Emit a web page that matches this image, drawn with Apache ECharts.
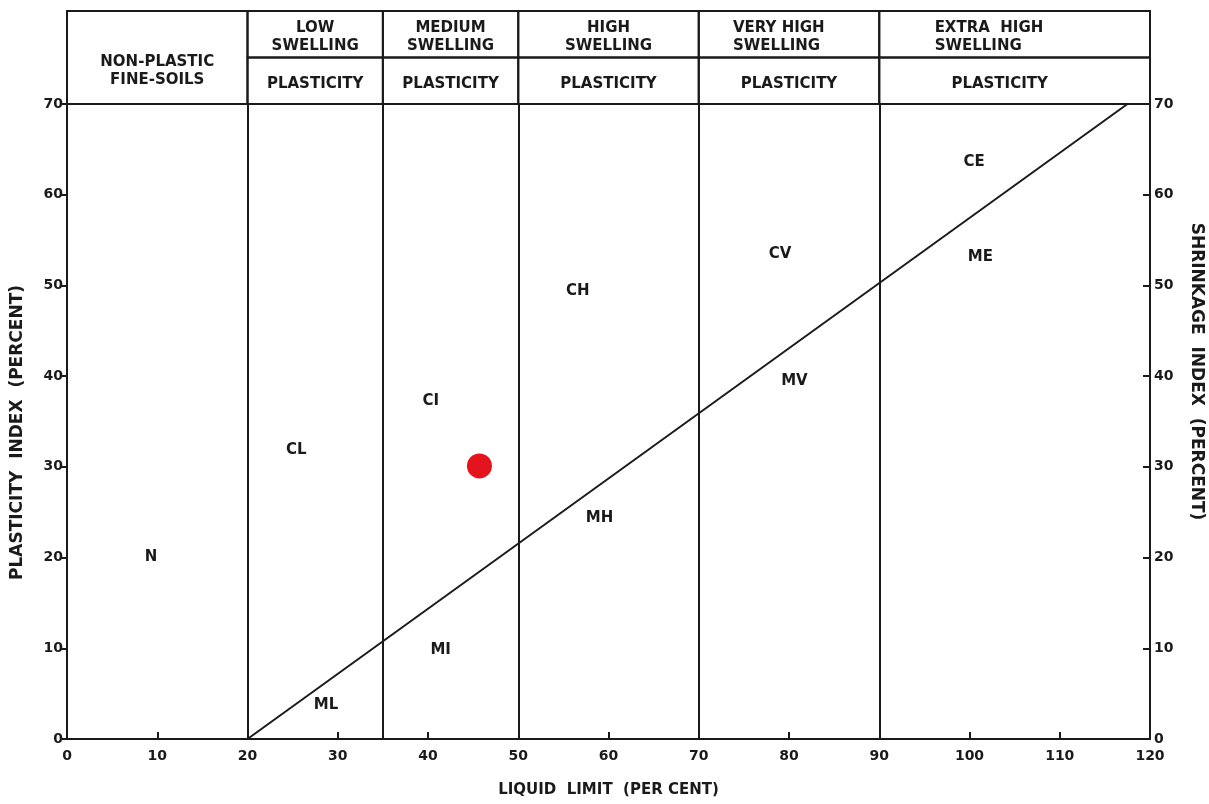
<!DOCTYPE html>
<html><head><meta charset="utf-8">
<script src="https://cdn.jsdelivr.net/npm/echarts@6/dist/echarts.min.js"></script>
<style>html,body{margin:0;padding:0;background:#fff}#c{width:1209px;height:804px}</style>
</head><body><div id="c"></div>
<script>
// ---- data ----
const xRange = [0, 120];
const yRange = [0, 70];
const tickStep = 10;
const zoneBounds = [0, 20, 35, 50, 70, 90, 120];
const zoneTopText = ['NON-PLASTIC\nFINE-SOILS', 'LOW\nSWELLING', 'MEDIUM\nSWELLING', 'HIGH\nSWELLING', 'VERY HIGH\nSWELLING', 'EXTRA  HIGH\nSWELLING'];
const zoneBottomText = ['', 'PLASTICITY', 'PLASTICITY', 'PLASTICITY', 'PLASTICITY', 'PLASTICITY'];
const aLineLL = [20, 117.5];
const aLinePI = [0, 70];
const regionNames = ['N', 'CL', 'CI', 'CH', 'CV', 'CE', 'ME', 'MV', 'MH', 'MI', 'ML'];
const regionLL = [9.3, 25.4, 40.3, 56.6, 79, 100.5, 101.2, 80.6, 59, 41.4, 28.7];
const regionPI = [20.1, 31.8, 37.2, 49.4, 53.4, 63.6, 53.1, 39.5, 24.3, 9.8, 3.7];
const sampleLL = [45.7];
const samplePI = [30.1];
const xTitle = 'LIQUID  LIMIT  (PER CENT)';
const yTitle = 'PLASTICITY  INDEX  (PERCENT)';
const y2Title = 'SHRINKAGE  INDEX  (PERCENT)';

// ---- chart ----
const FONT = 'DejaVu Sans';
const INK = '#1a1a1a';
const chart = echarts.init(document.getElementById('c'), null, {renderer: 'canvas'});

const headerCells = [];
for (let i = 0; i < zoneBounds.length - 1; i++) {
  const x0 = zoneBounds[i], x1 = zoneBounds[i + 1];
  if (i === 0) {
    headerCells.push([{xAxis: x0, yAxis: 0, name: zoneTopText[i], label: {offset: [0, 14]}}, {xAxis: x1, yAxis: 2}]);
  } else {
    let topLabel = {offset: [0, 3]};
    let botLabel = {offset: [0, 3]};
    if (i === 4) { topLabel = {align: 'left', offset: [-56, 3]}; }
    if (i === 5) { topLabel = {align: 'left', offset: [-80, 3]}; botLabel = {offset: [-15, 3]}; }
    headerCells.push([{xAxis: x0, yAxis: 1, name: zoneTopText[i], label: topLabel}, {xAxis: x1, yAxis: 2}]);
    headerCells.push([{xAxis: x0, yAxis: 0, name: zoneBottomText[i], label: botLabel}, {xAxis: x1, yAxis: 1}]);
  }
}

const labelFont = {fontFamily: FONT, fontWeight: 'bold', fontSize: 15, color: INK};

chart.setOption({
  animation: false,
  backgroundColor: '#fff',
  grid: [
    {left: 67, right: 59, top: 104, bottom: 65, outerBoundsMode: 'none', containLabel: false},
    {left: 67, right: 59, top: 11, height: 93, outerBoundsMode: 'none', containLabel: false}
  ],
  xAxis: [
    {gridIndex: 0, type: 'value', min: xRange[0], max: xRange[1], interval: tickStep,
     name: xTitle, nameLocation: 'middle', nameGap: 44,
     nameTextStyle: {fontFamily: FONT, fontWeight: 'bold', fontSize: 15, color: INK},
     axisLine: {lineStyle: {color: INK, width: 2}},
     axisTick: {inside: true, length: 7, lineStyle: {color: INK, width: 2}},
     axisLabel: {margin: 10, ...labelFont, fontSize: 14},
     splitLine: {show: false}},
    {gridIndex: 1, type: 'value', min: xRange[0], max: xRange[1], show: false}
  ],
  yAxis: [
    {gridIndex: 0, type: 'value', min: yRange[0], max: yRange[1], interval: tickStep,
     name: yTitle, nameLocation: 'middle', nameGap: 41, nameRotate: 90,
     nameTextStyle: {fontFamily: FONT, fontWeight: 'bold', fontSize: 17, color: INK, padding: [0, 22, 0, 0]},
     axisLine: {show: true, lineStyle: {color: INK, width: 2}},
     axisTick: {show: true, inside: false, length: 7, lineStyle: {color: INK, width: 2}},
     axisLabel: {margin: 4, ...labelFont, fontSize: 14},
     splitLine: {show: false}},
    {gridIndex: 0, type: 'value', position: 'right', min: yRange[0], max: yRange[1], interval: tickStep,
     name: y2Title, nameLocation: 'middle', nameGap: 38, nameRotate: -90,
     nameTextStyle: {fontFamily: FONT, fontWeight: 'bold', fontSize: 17, color: INK, padding: [0, 100, 0, 0]},
     axisLine: {show: true, lineStyle: {color: INK, width: 2}},
     axisTick: {show: true, inside: true, length: 7, lineStyle: {color: INK, width: 2}},
     axisLabel: {margin: 4, ...labelFont, fontSize: 14},
     splitLine: {show: false}},
    {gridIndex: 1, type: 'value', min: 0, max: 2, show: false}
  ],
  series: [
    {
      type: 'line', xAxisIndex: 0, yAxisIndex: 0, silent: true,
      data: aLineLL.map((x, i) => [x, aLinePI[i]]),
      symbol: 'none', lineStyle: {color: INK, width: 2},
      markLine: {
        silent: true, symbol: 'none', label: {show: false},
        lineStyle: {color: INK, width: 2, type: 'solid'},
        data: zoneBounds.slice(1, -1).map(v => ({xAxis: v}))
      }
    },
    {
      type: 'scatter', xAxisIndex: 0, yAxisIndex: 0, silent: true,
      symbolSize: 1, itemStyle: {color: 'rgba(0,0,0,0)', opacity: 1},
      data: regionNames.map((n, i) => ({name: n, value: [regionLL[i], regionPI[i]]})),
      label: {show: true, position: 'inside', formatter: p => p.name, ...labelFont, opacity: 1}
    },
    {
      type: 'scatter', xAxisIndex: 0, yAxisIndex: 0, silent: true,
      symbolSize: 25, itemStyle: {color: '#e3141e', opacity: 1},
      data: sampleLL.map((x, i) => [x, samplePI[i]])
    },
    {
      type: 'scatter', xAxisIndex: 1, yAxisIndex: 2, silent: true, data: [],
      markArea: {
        silent: true,
        itemStyle: {color: 'rgba(0,0,0,0)', borderColor: INK, borderWidth: 2},
        label: {show: true, position: 'inside', fontFamily: FONT, fontWeight: 'bold', fontSize: 15, color: INK, lineHeight: 18},
        data: headerCells
      }
    }
  ]
});
</script>
</body></html>
